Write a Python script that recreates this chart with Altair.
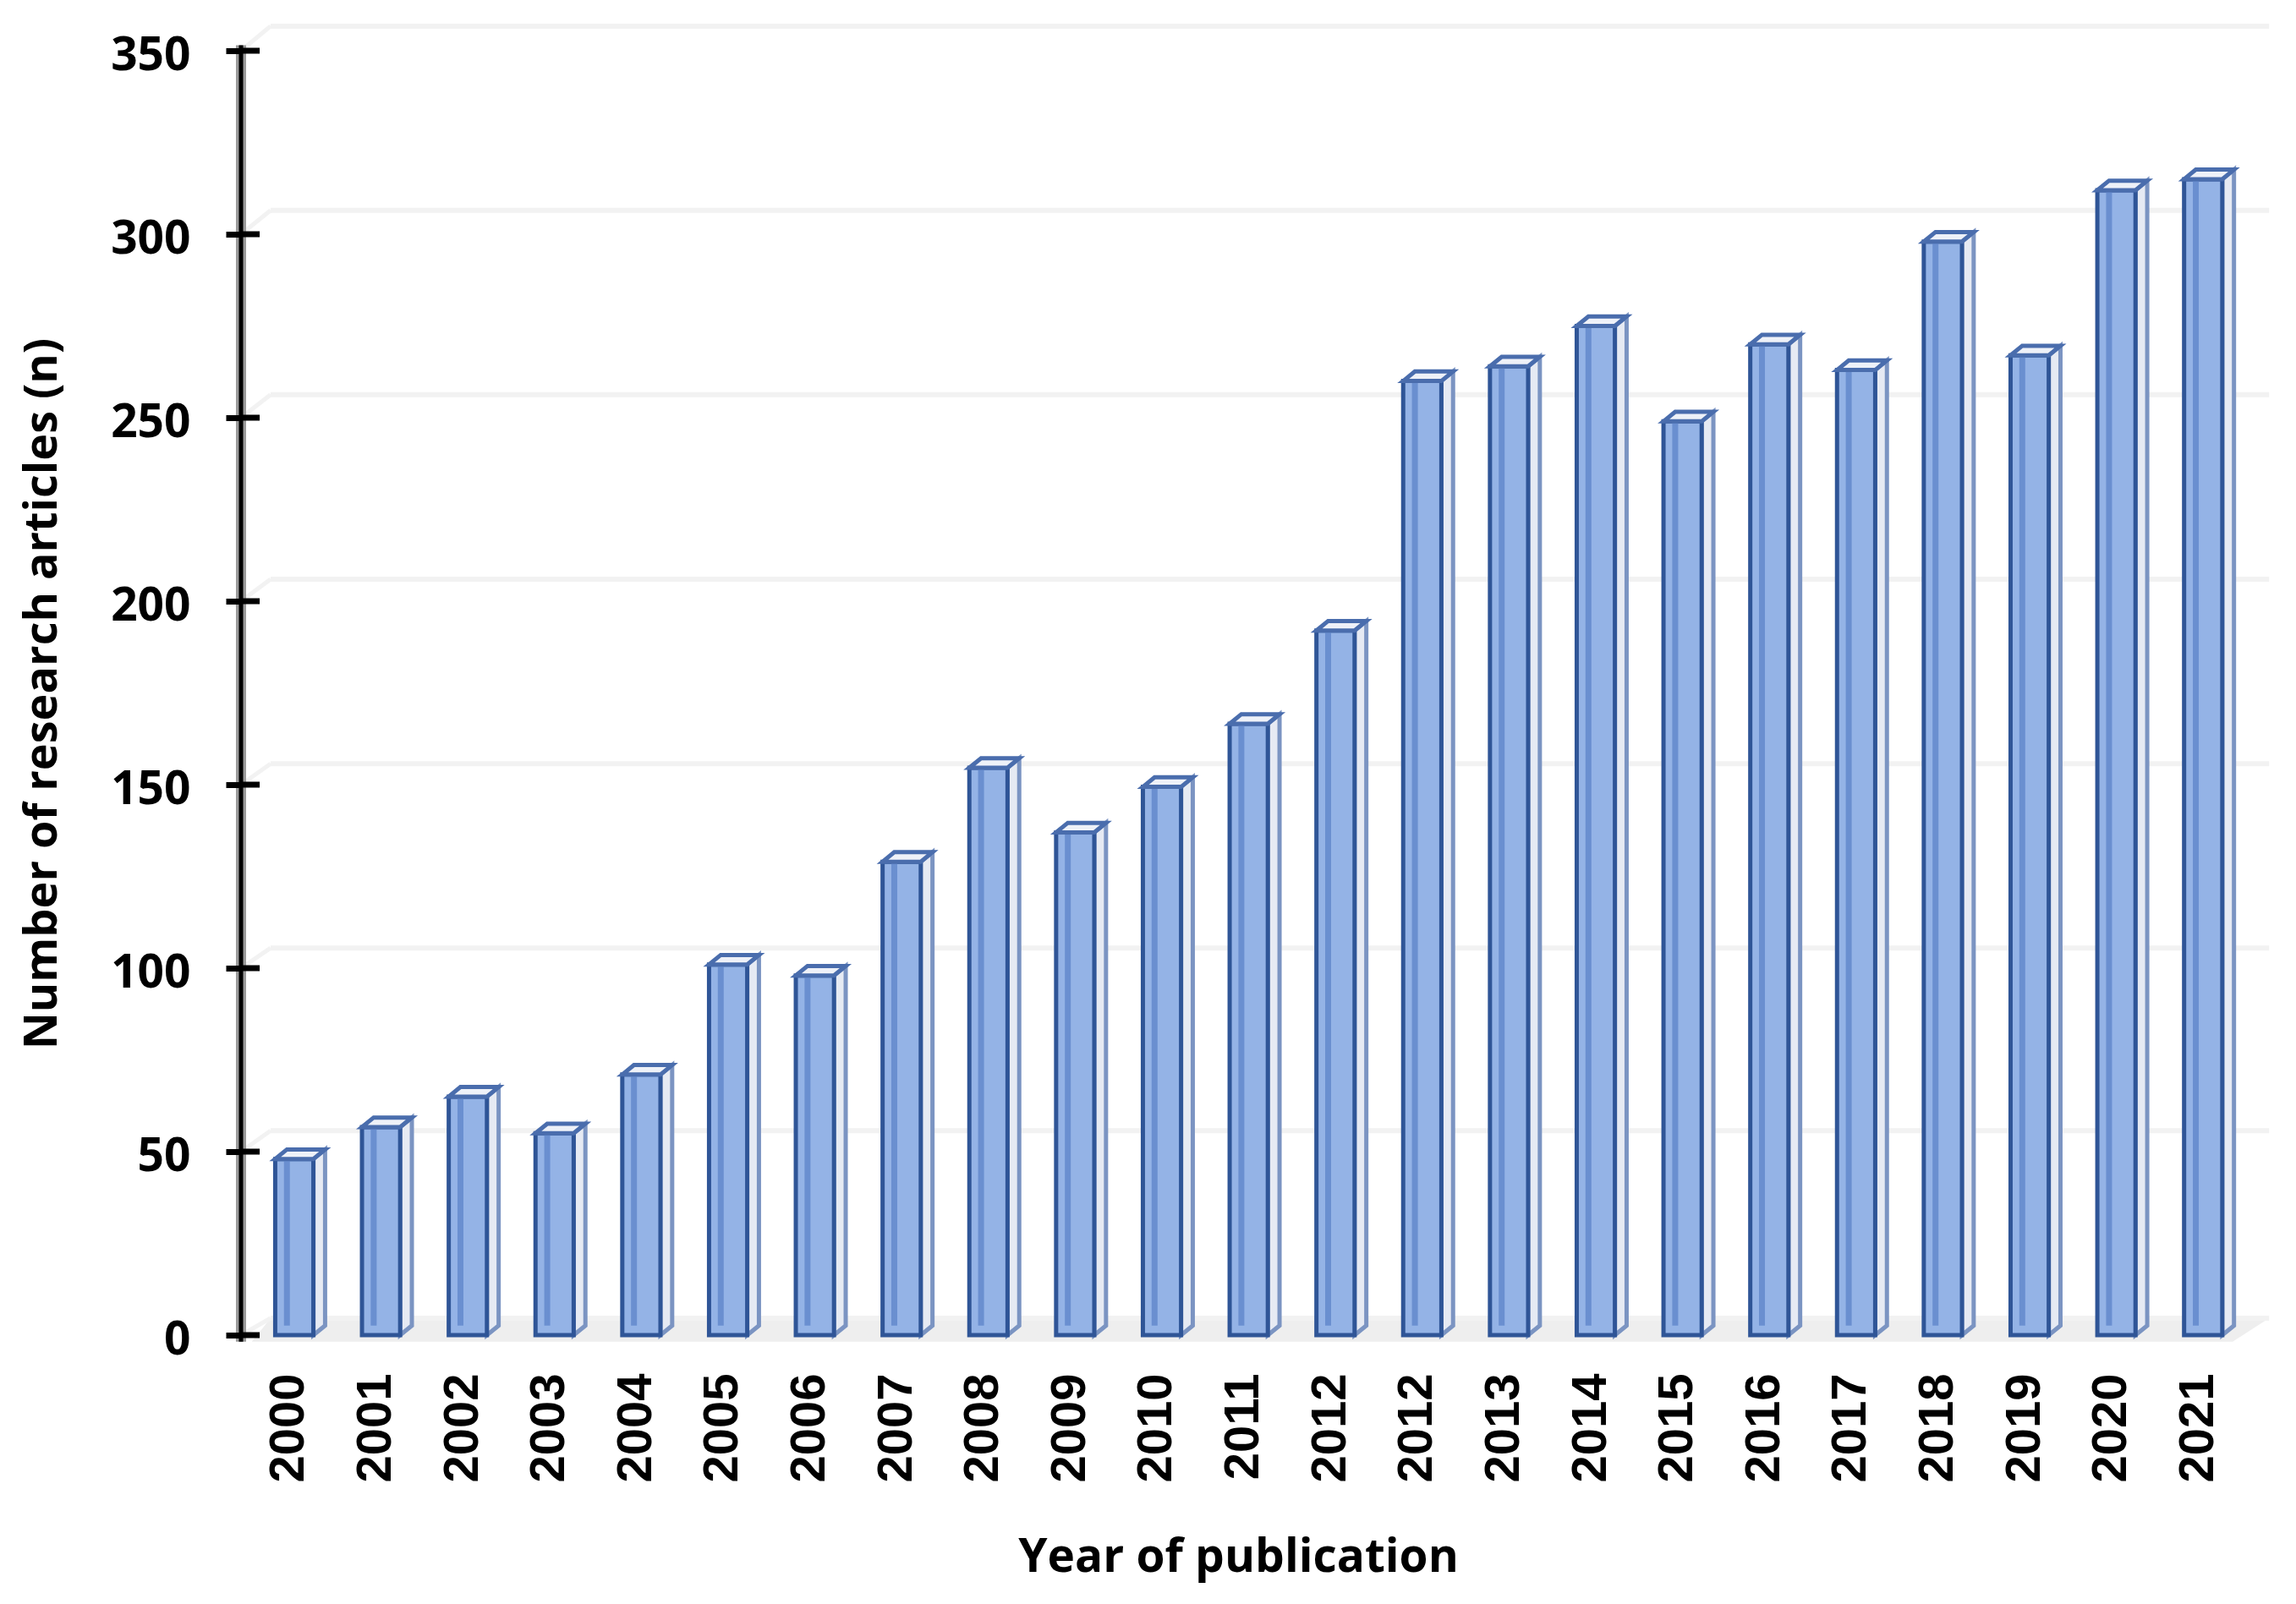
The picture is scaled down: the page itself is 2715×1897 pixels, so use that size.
import altair as alt
import pandas as pd

year_labels = ["2000","2001","2002","2003","2004","2005","2006","2007","2008","2009","2010","2011","2012",
               "2012","2013","2014","2015","2016","2017","2018","2019","2020","2021"]
articles = [48,56.7,65,55,71,101,98,129,154.6,137,149.4,166.6,192,260,264,275,249,270,263,298,267,312,315]
y_ticks = [0,50,100,150,200,250,300,350]
wall_grid = [4.6,55.7,105.5,155.7,206,256.3,306.5,356.7]

half = 0.22
dx = 0.135
dy = 2.6
wall_left = -0.263
wall_right = 22.77
axis_x = -0.604
x_max = 22.836

rows = list(enumerate(articles))
bars = pd.DataFrame({"i": [i for i, _ in rows], "v": articles})
bars["l"] = bars.i - half + 0.01
bars["r"] = bars.i + half + 0.01
bars["bl"] = bars.l + dx
bars["vt"] = bars.v
bars["base"] = 0.0
bars["baseb"] = dy

side, top, bottom = [], [], []
for i, v in rows:
    l, r = i - half + 0.01, i + half + 0.01
    side += [dict(i=i, x=r, y=v, y2=0), dict(i=i, x=r + dx, y=v + dy, y2=dy)]
    top += [dict(i=i, x=l, y=v, y2=v), dict(i=i, x=l + dx, y=v + dy, y2=v),
            dict(i=i, x=r, y=v + dy, y2=v), dict(i=i, x=r + dx, y=v + dy, y2=v + dy)]
    bottom += [dict(i=i, x=l, y=0, y2=0), dict(i=i, x=l + dx, y=dy, y2=0),
               dict(i=i, x=r, y=dy, y2=0), dict(i=i, x=r + dx, y=dy, y2=dy)]
side, top, bottom = map(pd.DataFrame, (side, top, bottom))

xs = alt.Scale(domain=[axis_x, x_max], nice=False, zero=False)
ys = alt.Scale(domain=[0, 350], nice=False, zero=False)
X = lambda f: alt.X(f, type="quantitative", scale=xs)
Y = lambda f: alt.Y(f, type="quantitative", scale=ys)

grid_df = pd.DataFrame({"g": wall_grid, "t": y_ticks, "a": axis_x, "l": wall_left, "r": wall_right})
grid = alt.Chart(grid_df).mark_rule(color="#f2f2f2", strokeWidth=6).encode(x=X("l"), x2="r", y=Y("g"))
diag_df = pd.DataFrame(
    [dict(k=t, x=axis_x, y=t) for t in y_ticks] + [dict(k=t, x=wall_left, y=g) for t, g in zip(y_ticks, wall_grid)]
)
diag = alt.Chart(diag_df).mark_line(color="#f2f2f2", strokeWidth=5).encode(x=X("x"), y=Y("y"), detail="k:N")

floor_df = pd.DataFrame([
    dict(x=-0.48, y=-1.8, y2=-1.8), dict(x=wall_left, y=4.6, y2=-1.8),
    dict(x=22.35, y=4.6, y2=-1.8), dict(x=wall_right, y=4.6, y2=4.6)])
floor = alt.Chart(floor_df).mark_area(color="#eeeeee", opacity=1).encode(x=X("x"), y=Y("y"), y2="y2")

bottom_l = alt.Chart(bottom).mark_area(color="#7f9fd9", opacity=1).encode(x=X("x"), y=Y("y"), y2="y2", detail="i:N")
side_l = alt.Chart(side).mark_area(color="#e6eaf3", stroke="#7b94c2", strokeWidth=5, opacity=1).encode(
    x=X("x"), y=Y("y"), y2="y2", detail="i:N")
top_l = alt.Chart(top).mark_area(color="#eef1f8", stroke="#4a6dad", strokeWidth=5, opacity=1).encode(
    x=X("x"), y=Y("y"), y2="y2", detail="i:N")
front = alt.Chart(bars).mark_bar(color="#94b3e6", stroke="#2f5597", strokeWidth=5, opacity=1).encode(
    x=X("l"), x2="r", y=Y("v"), y2="base")
inner = alt.Chart(bars).mark_rule(color="#6a8fd0", strokeWidth=7).encode(x=X("bl"), y=Y("vt"), y2="baseb")

axis_df = pd.DataFrame({"x": [axis_x], "lo": [-1.8], "hi": [351.5]})
axis_grey = alt.Chart(axis_df).mark_rule(color="#9b9b9b", strokeWidth=12).encode(x=X("x"), y=Y("lo"), y2="hi")
axis_black = alt.Chart(axis_df).mark_rule(color="#000000", strokeWidth=5).encode(x=X("x"), y=Y("lo"), y2="hi")
tick_df = pd.DataFrame({"t": y_ticks, "a": axis_x, "b": axis_x + 0.215})
ticks_right = alt.Chart(tick_df).mark_rule(color="#000000", strokeWidth=7).encode(x=X("a"), x2="b", y=Y("t"))

label_expr = "[" + ",".join(f"'{s}'" for s in year_labels) + "][datum.value]"
axes = alt.Chart(tick_df).mark_rule(opacity=0).encode(
    x=alt.X("a", type="quantitative", scale=xs, title="Year of publication", axis=alt.Axis(
        values=list(range(len(year_labels))), labelExpr=label_expr, labelAngle=270, labelAlign="right",
        labelBaseline="middle", labelOverlap=False, labelFlush=False, labelBound=False, labelOffset=-5,
        labelPadding=45, labelFont="Liberation Sans", labelFontWeight="bold", labelFontSize=58, labelColor="#000000",
        ticks=False, domain=False, grid=False, titleFont="Open Sans", titleFontWeight="bold", titleFontSize=55,
        titleColor="#000000", titleX=1179, titleY=262, titleAnchor="middle", titleBaseline="middle", zindex=1)),
    y=alt.Y("t", type="quantitative", scale=ys, title="Number of research articles (n)", axis=alt.Axis(
        values=y_ticks, labelFont="Open Sans", labelFontWeight="bold", labelFontSize=55, labelColor="#000000",
        labelPadding=42, labelBaseline="middle", labelOffset=5, tickSize=18, tickWidth=7, tickColor="#000000",
        domain=False, grid=False,
        titleFont="Open Sans", titleFontWeight="bold", titleFontSize=54, titleColor="#000000", titleAngle=270,
        titleX=-235, titleY=760, titleAnchor="middle", titleBaseline="middle", zindex=1)),
)

chart = alt.layer(axes, floor, grid, diag, bottom_l, side_l, front, inner, top_l, axis_grey, axis_black, ticks_right).properties(
    width=2405, height=1519, background="#ffffff",
    padding={"left": 277, "top": 52, "right": 15, "bottom": 306},
    autosize=alt.AutoSizeParams(type="none"),
).configure_view(stroke=None)

chart.save("out.html", embed_options={"renderer": "svg", "actions": False})
